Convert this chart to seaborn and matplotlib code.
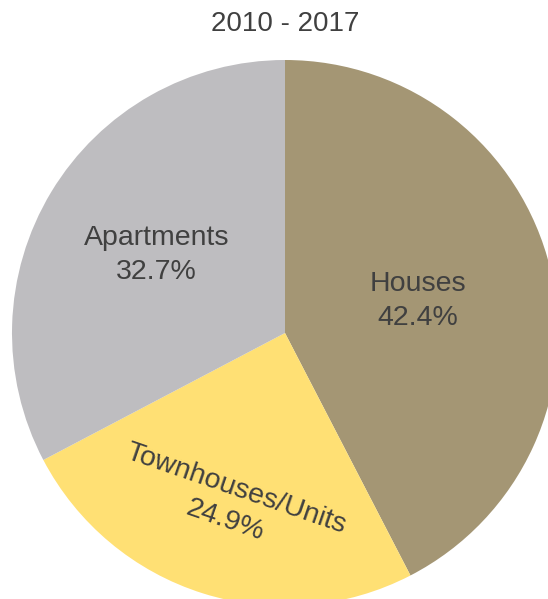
import numpy as np
import matplotlib
matplotlib.use("Agg")
import matplotlib.pyplot as plt
import seaborn as sns

# chart data
title = "2010 - 2017"
categories = ["Houses", "Townhouses/Units", "Apartments"]
shares = [42.4, 24.9, 32.7]
slice_colors = ["#A49674", "#FFE074", "#BEBDC0"]

# where each label sits along its slice (fraction of radius) and how it is turned
label_dist = [0.50, 0.66, 0.55]
label_rot = [0, -19, 0]

sns.set_theme(style="white")
plt.rcParams["font.family"] = ["Liberation Sans", "DejaVu Sans"]

fig = plt.figure(figsize=(5.48, 5.99), dpi=100)
ax = fig.add_axes([0, 0, 1, 1])

wedges, _ = ax.pie(shares, colors=sns.color_palette(slice_colors),
                   startangle=90, counterclock=False, radius=1.0,
                   wedgeprops={"linewidth": 0})

for w, name, val, d, rot in zip(wedges, categories, shares, label_dist, label_rot):
    mid = np.deg2rad((w.theta1 + w.theta2) / 2)
    ax.text(d * np.cos(mid), d * np.sin(mid), f"{name}\n{val:.1f}%",
            ha="center", va="center", fontsize=20.5, color="#404040",
            rotation=rot, rotation_mode="anchor", linespacing=1.4)

# pie centre at (285, 333) px from top-left, radius 273 px
scale = 273.0
ax.set_xlim(-285 / scale, (548 - 285) / scale)
ax.set_ylim(-(599 - 333) / scale, 333 / scale)
ax.set_aspect("auto")
ax.axis("off")

fig.text(285 / 548, 1 - 24 / 599, title, ha="center", va="center",
         fontsize=20, color="#404040")

fig.savefig("out.png", dpi=100, facecolor="white")
